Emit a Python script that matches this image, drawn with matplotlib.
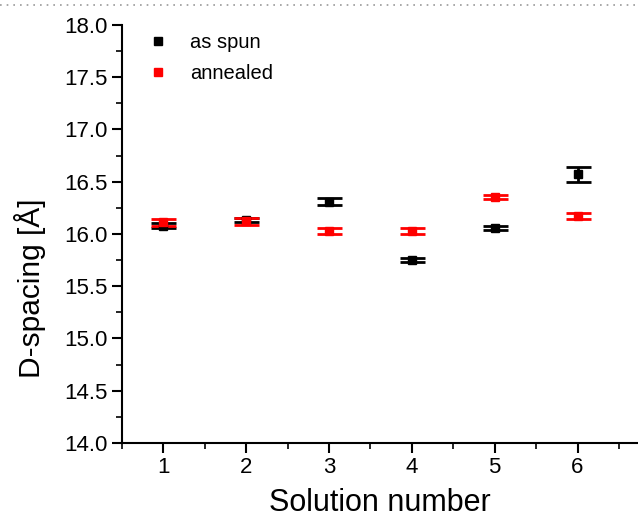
import matplotlib
matplotlib.use("Agg")
import matplotlib.pyplot as plt
from matplotlib.lines import Line2D
from matplotlib.ticker import MultipleLocator

plt.rcParams['font.family'] = ['Liberation Sans', 'DejaVu Sans']

solutions = [1, 2, 3, 4, 5, 6]
as_spun = [16.08, 16.13, 16.31, 15.75, 16.06, 16.57]
as_spun_err = [0.02, 0.02, 0.035, 0.02, 0.02, 0.07]
annealed = [16.11, 16.12, 16.03, 16.03, 16.35, 16.17]
annealed_err = [0.03, 0.03, 0.03, 0.03, 0.02, 0.03]

fig = plt.figure(figsize=(6.38, 5.21), dpi=100)
ax = fig.add_axes([0.191, 0.150, 0.809, 0.802])

ax.errorbar(solutions, as_spun, yerr=as_spun_err, fmt='s', color='black',
            markersize=6, capsize=9, elinewidth=2, capthick=2, label='as spun')
ax.errorbar(solutions, annealed, yerr=annealed_err, fmt='s', color='red',
            markersize=6, capsize=9, elinewidth=2, capthick=2, label='annealed')

ax.set_xlim(0.5, 6.73)
ax.set_ylim(14.0, 18.0)
ax.set_xticks(solutions)
ax.set_yticks([14.0, 14.5, 15.0, 15.5, 16.0, 16.5, 17.0, 17.5, 18.0])
ax.set_yticklabels(['14.0', '14.5', '15.0', '15.5', '16.0', '16.5', '17.0', '17.5', '18.0'])
ax.xaxis.set_minor_locator(MultipleLocator(0.5))
ax.yaxis.set_minor_locator(MultipleLocator(0.25))
ax.tick_params(which='major', direction='out', length=7, width=1.5, labelsize=16)
ax.tick_params(which='minor', direction='out', length=4, width=1.2)
ax.spines['top'].set_visible(False)
ax.spines['right'].set_visible(False)
ax.spines['left'].set_linewidth(1.5)
ax.spines['bottom'].set_linewidth(1.5)

ax.set_xlabel('Solution number', fontsize=22, labelpad=7)
ax.set_ylabel('D-spacing [Å]', fontsize=21.5)
ax.yaxis.set_label_coords(-0.147, 0.371)

handles = [Line2D([], [], marker='s', color='black', linestyle='none', markersize=6),
           Line2D([], [], marker='s', color='red', linestyle='none', markersize=6)]
ax.legend(handles, ['as spun', 'annealed'], loc='upper left', frameon=False,
          fontsize=14.5, bbox_to_anchor=(-0.005, 1.025), handletextpad=0.6, labelspacing=0.6)

# dotted separator line at the very top
fig.add_artist(Line2D([0, 1], [0.99, 0.99], transform=fig.transFigure,
                      color='#999999', linestyle=(0, (1, 3)), linewidth=1.2))

fig.savefig('out.png', dpi=100)
